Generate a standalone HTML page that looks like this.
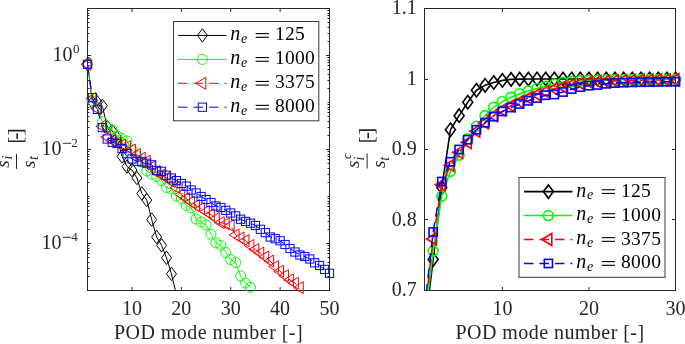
<!DOCTYPE html>
<html><head><meta charset="utf-8"><style>
html,body{margin:0;padding:0;background:#fff;width:685px;height:344px;overflow:hidden;font-family:"Liberation Serif",serif}
svg{will-change:transform}
</style></head><body>
<svg width="685" height="344" viewBox="0 0 685 344" style="position:absolute;left:0;top:0">
<defs><clipPath id="cl"><rect x="87.5" y="8.5" width="242.0" height="282.0"/></clipPath><clipPath id="cr"><rect x="424.5" y="8.5" width="251.0" height="282.0"/></clipPath></defs>
<path d="M131.95 290.5V287.0M131.95 8.5V12.0M181.34 290.5V287.0M181.34 8.5V12.0M230.72 290.5V287.0M230.72 8.5V12.0M280.11 290.5V287.0M280.11 8.5V12.0M329.5 290.5V287.0M329.5 8.5V12.0M87.5 290.5H89.5M329.5 290.5H327.5M87.5 276.5H89.5M329.5 276.5H327.5M87.5 268.5H89.5M329.5 268.5H327.5M87.5 262.5H89.5M329.5 262.5H327.5M87.5 257.5H89.5M329.5 257.5H327.5M87.5 253.5H89.5M329.5 253.5H327.5M87.5 250.5H89.5M329.5 250.5H327.5M87.5 248.5H89.5M329.5 248.5H327.5M87.5 245.5H89.5M329.5 245.5H327.5M87.5 243.5H91M329.5 243.5H326M87.5 229.5H89.5M329.5 229.5H327.5M87.5 221.5H89.5M329.5 221.5H327.5M87.5 215.5H89.5M329.5 215.5H327.5M87.5 210.5H89.5M329.5 210.5H327.5M87.5 206.5H89.5M329.5 206.5H327.5M87.5 203.5H89.5M329.5 203.5H327.5M87.5 201.5H89.5M329.5 201.5H327.5M87.5 198.5H89.5M329.5 198.5H327.5M87.5 196.5H89.5M329.5 196.5H327.5M87.5 182.5H89.5M329.5 182.5H327.5M87.5 174.5H89.5M329.5 174.5H327.5M87.5 168.5H89.5M329.5 168.5H327.5M87.5 163.5H89.5M329.5 163.5H327.5M87.5 159.5H89.5M329.5 159.5H327.5M87.5 156.5H89.5M329.5 156.5H327.5M87.5 154.5H89.5M329.5 154.5H327.5M87.5 151.5H89.5M329.5 151.5H327.5M87.5 149.5H91M329.5 149.5H326M87.5 135.5H89.5M329.5 135.5H327.5M87.5 127.5H89.5M329.5 127.5H327.5M87.5 121.5H89.5M329.5 121.5H327.5M87.5 116.5H89.5M329.5 116.5H327.5M87.5 112.5H89.5M329.5 112.5H327.5M87.5 109.5H89.5M329.5 109.5H327.5M87.5 107.5H89.5M329.5 107.5H327.5M87.5 104.5H89.5M329.5 104.5H327.5M87.5 102.5H89.5M329.5 102.5H327.5M87.5 88.5H89.5M329.5 88.5H327.5M87.5 80.5H89.5M329.5 80.5H327.5M87.5 74.5H89.5M329.5 74.5H327.5M87.5 69.5H89.5M329.5 69.5H327.5M87.5 65.5H89.5M329.5 65.5H327.5M87.5 62.5H89.5M329.5 62.5H327.5M87.5 60.5H89.5M329.5 60.5H327.5M87.5 57.5H89.5M329.5 57.5H327.5M87.5 55.5H91M329.5 55.5H326M87.5 41.5H89.5M329.5 41.5H327.5M87.5 33.5H89.5M329.5 33.5H327.5M87.5 27.5H89.5M329.5 27.5H327.5M87.5 22.5H89.5M329.5 22.5H327.5M87.5 18.5H89.5M329.5 18.5H327.5M87.5 15.5H89.5M329.5 15.5H327.5M87.5 13.5H89.5M329.5 13.5H327.5M87.5 10.5H89.5M329.5 10.5H327.5" stroke="#262626" stroke-width="1" fill="none"/>
<path d="M502.4 290.5V287.0M502.4 8.5V12.0M588.95 290.5V287.0M588.95 8.5V12.0M675.5 290.5V287.0M675.5 8.5V12.0M424.5 290.5H428.0M675.5 290.5H672.0M424.5 219.5H428.0M675.5 219.5H672.0M424.5 149.5H428.0M675.5 149.5H672.0M424.5 79.5H428.0M675.5 79.5H672.0M424.5 8.5H428.0M675.5 8.5H672.0" stroke="#262626" stroke-width="1" fill="none"/>
<rect x="87.5" y="8.5" width="242.0" height="282.0" fill="none" stroke="#262626" stroke-width="1"/>
<rect x="424.5" y="8.5" width="251.0" height="282.0" fill="none" stroke="#262626" stroke-width="1"/>
<path d="M87.5 64.3 L92.44 102.5 L97.38 102.3 L102.32 105.8 L107.26 127 L112.19 131 L117.13 138 L122.07 156.5 L127.01 166.5 L131.95 170 L136.89 178 L141.83 193.5 L146.77 200.1 L151.7 219.6 L156.64 237 L161.58 245.4 L166.52 257.8 L171.46 273.9 L176.4 294.7" fill="none" stroke="#000000" stroke-width="1.0" stroke-linejoin="round" clip-path="url(#cl)"/>
<path d="M87.5 57.6L92.5 64.3L87.5 71L82.5 64.3Z" fill="none" stroke="#000000" stroke-width="1.0"/>
<path d="M92.44 95.8L97.44 102.5L92.44 109.2L87.44 102.5Z" fill="none" stroke="#000000" stroke-width="1.0"/>
<path d="M97.38 95.6L102.38 102.3L97.38 109L92.38 102.3Z" fill="none" stroke="#000000" stroke-width="1.0"/>
<path d="M102.32 99.1L107.32 105.8L102.32 112.5L97.32 105.8Z" fill="none" stroke="#000000" stroke-width="1.0"/>
<path d="M107.26 120.3L112.26 127L107.26 133.7L102.26 127Z" fill="none" stroke="#000000" stroke-width="1.0"/>
<path d="M112.19 124.3L117.19 131L112.19 137.7L107.19 131Z" fill="none" stroke="#000000" stroke-width="1.0"/>
<path d="M117.13 131.3L122.13 138L117.13 144.7L112.13 138Z" fill="none" stroke="#000000" stroke-width="1.0"/>
<path d="M122.07 149.8L127.07 156.5L122.07 163.2L117.07 156.5Z" fill="none" stroke="#000000" stroke-width="1.0"/>
<path d="M127.01 159.8L132.01 166.5L127.01 173.2L122.01 166.5Z" fill="none" stroke="#000000" stroke-width="1.0"/>
<path d="M131.95 163.3L136.95 170L131.95 176.7L126.95 170Z" fill="none" stroke="#000000" stroke-width="1.0"/>
<path d="M136.89 171.3L141.89 178L136.89 184.7L131.89 178Z" fill="none" stroke="#000000" stroke-width="1.0"/>
<path d="M141.83 186.8L146.83 193.5L141.83 200.2L136.83 193.5Z" fill="none" stroke="#000000" stroke-width="1.0"/>
<path d="M146.77 193.4L151.77 200.1L146.77 206.8L141.77 200.1Z" fill="none" stroke="#000000" stroke-width="1.0"/>
<path d="M151.7 212.9L156.7 219.6L151.7 226.3L146.7 219.6Z" fill="none" stroke="#000000" stroke-width="1.0"/>
<path d="M156.64 230.3L161.64 237L156.64 243.7L151.64 237Z" fill="none" stroke="#000000" stroke-width="1.0"/>
<path d="M161.58 238.7L166.58 245.4L161.58 252.1L156.58 245.4Z" fill="none" stroke="#000000" stroke-width="1.0"/>
<path d="M166.52 251.1L171.52 257.8L166.52 264.5L161.52 257.8Z" fill="none" stroke="#000000" stroke-width="1.0"/>
<path d="M171.46 267.2L176.46 273.9L171.46 280.6L166.46 273.9Z" fill="none" stroke="#000000" stroke-width="1.0"/>
<path d="M87.5 64.3 L92.44 101 L97.38 107.6 L102.32 121.8 L107.26 127.5 L112.19 130 L117.13 136 L122.07 138.5 L127.01 141 L131.95 150 L136.89 156 L141.83 162 L146.77 171 L151.7 174 L156.64 176.5 L161.58 180.5 L166.52 187.5 L171.46 189 L176.4 196 L181.34 198.5 L186.28 205.5 L191.21 208 L196.15 219 L201.09 222 L206.03 225 L210.97 234.2 L215.91 242.9 L220.85 245.3 L225.79 252.5 L230.72 259.6 L235.66 262.6 L240.6 275.9 L245.54 283 L250.48 287.1" fill="none" stroke="#00ff00" stroke-width="1.0" stroke-linejoin="round" clip-path="url(#cl)"/>
<circle cx="87.5" cy="64.3" r="5" fill="none" stroke="#00ff00" stroke-width="1.0"/>
<circle cx="92.44" cy="101" r="5" fill="none" stroke="#00ff00" stroke-width="1.0"/>
<circle cx="97.38" cy="107.6" r="5" fill="none" stroke="#00ff00" stroke-width="1.0"/>
<circle cx="102.32" cy="121.8" r="5" fill="none" stroke="#00ff00" stroke-width="1.0"/>
<circle cx="107.26" cy="127.5" r="5" fill="none" stroke="#00ff00" stroke-width="1.0"/>
<circle cx="112.19" cy="130" r="5" fill="none" stroke="#00ff00" stroke-width="1.0"/>
<circle cx="117.13" cy="136" r="5" fill="none" stroke="#00ff00" stroke-width="1.0"/>
<circle cx="122.07" cy="138.5" r="5" fill="none" stroke="#00ff00" stroke-width="1.0"/>
<circle cx="127.01" cy="141" r="5" fill="none" stroke="#00ff00" stroke-width="1.0"/>
<circle cx="131.95" cy="150" r="5" fill="none" stroke="#00ff00" stroke-width="1.0"/>
<circle cx="136.89" cy="156" r="5" fill="none" stroke="#00ff00" stroke-width="1.0"/>
<circle cx="141.83" cy="162" r="5" fill="none" stroke="#00ff00" stroke-width="1.0"/>
<circle cx="146.77" cy="171" r="5" fill="none" stroke="#00ff00" stroke-width="1.0"/>
<circle cx="151.7" cy="174" r="5" fill="none" stroke="#00ff00" stroke-width="1.0"/>
<circle cx="156.64" cy="176.5" r="5" fill="none" stroke="#00ff00" stroke-width="1.0"/>
<circle cx="161.58" cy="180.5" r="5" fill="none" stroke="#00ff00" stroke-width="1.0"/>
<circle cx="166.52" cy="187.5" r="5" fill="none" stroke="#00ff00" stroke-width="1.0"/>
<circle cx="171.46" cy="189" r="5" fill="none" stroke="#00ff00" stroke-width="1.0"/>
<circle cx="176.4" cy="196" r="5" fill="none" stroke="#00ff00" stroke-width="1.0"/>
<circle cx="181.34" cy="198.5" r="5" fill="none" stroke="#00ff00" stroke-width="1.0"/>
<circle cx="186.28" cy="205.5" r="5" fill="none" stroke="#00ff00" stroke-width="1.0"/>
<circle cx="191.21" cy="208" r="5" fill="none" stroke="#00ff00" stroke-width="1.0"/>
<circle cx="196.15" cy="219" r="5" fill="none" stroke="#00ff00" stroke-width="1.0"/>
<circle cx="201.09" cy="222" r="5" fill="none" stroke="#00ff00" stroke-width="1.0"/>
<circle cx="206.03" cy="225" r="5" fill="none" stroke="#00ff00" stroke-width="1.0"/>
<circle cx="210.97" cy="234.2" r="5" fill="none" stroke="#00ff00" stroke-width="1.0"/>
<circle cx="215.91" cy="242.9" r="5" fill="none" stroke="#00ff00" stroke-width="1.0"/>
<circle cx="220.85" cy="245.3" r="5" fill="none" stroke="#00ff00" stroke-width="1.0"/>
<circle cx="225.79" cy="252.5" r="5" fill="none" stroke="#00ff00" stroke-width="1.0"/>
<circle cx="230.72" cy="259.6" r="5" fill="none" stroke="#00ff00" stroke-width="1.0"/>
<circle cx="235.66" cy="262.6" r="5" fill="none" stroke="#00ff00" stroke-width="1.0"/>
<circle cx="240.6" cy="275.9" r="5" fill="none" stroke="#00ff00" stroke-width="1.0"/>
<circle cx="245.54" cy="283" r="5" fill="none" stroke="#00ff00" stroke-width="1.0"/>
<circle cx="250.48" cy="287.1" r="5" fill="none" stroke="#00ff00" stroke-width="1.0"/>
<path d="M87.5 64.3 L92.44 98.5 L97.38 108.7 L102.32 126.2 L107.26 137 L112.19 140.5 L117.13 143 L122.07 145 L127.01 146.7 L131.95 150 L136.89 154.5 L141.83 158.2 L146.77 161.2 L151.7 167 L156.64 171.5 L161.58 175 L166.52 178 L171.46 181.5 L176.4 187.5 L181.34 194.5 L186.28 198.5 L191.21 202 L196.15 205.5 L201.09 208.5 L206.03 211.5 L210.97 214.7 L215.91 218.5 L220.85 222.6 L225.79 223.8 L230.72 225.7 L235.66 235 L240.6 238 L245.54 240.6 L250.48 245.5 L255.42 249.5 L260.36 253 L265.3 257 L270.23 261 L275.17 266.5 L280.11 271.2 L285.05 275.6 L289.99 280 L294.93 283.2 L299.87 287.6" fill="none" stroke="#ff0000" stroke-width="1.0" stroke-linejoin="round" stroke-dasharray="9.5 6" clip-path="url(#cl)"/>
<path d="M81 64.3L90.9 58.3L90.9 70.3Z" fill="none" stroke="#ff0000" stroke-width="1.0"/>
<path d="M85.94 98.5L95.84 92.5L95.84 104.5Z" fill="none" stroke="#ff0000" stroke-width="1.0"/>
<path d="M90.88 108.7L100.78 102.7L100.78 114.7Z" fill="none" stroke="#ff0000" stroke-width="1.0"/>
<path d="M95.82 126.2L105.72 120.2L105.72 132.2Z" fill="none" stroke="#ff0000" stroke-width="1.0"/>
<path d="M100.76 137L110.66 131L110.66 143Z" fill="none" stroke="#ff0000" stroke-width="1.0"/>
<path d="M105.69 140.5L115.59 134.5L115.59 146.5Z" fill="none" stroke="#ff0000" stroke-width="1.0"/>
<path d="M110.63 143L120.53 137L120.53 149Z" fill="none" stroke="#ff0000" stroke-width="1.0"/>
<path d="M115.57 145L125.47 139L125.47 151Z" fill="none" stroke="#ff0000" stroke-width="1.0"/>
<path d="M120.51 146.7L130.41 140.7L130.41 152.7Z" fill="none" stroke="#ff0000" stroke-width="1.0"/>
<path d="M125.45 150L135.35 144L135.35 156Z" fill="none" stroke="#ff0000" stroke-width="1.0"/>
<path d="M130.39 154.5L140.29 148.5L140.29 160.5Z" fill="none" stroke="#ff0000" stroke-width="1.0"/>
<path d="M135.33 158.2L145.23 152.2L145.23 164.2Z" fill="none" stroke="#ff0000" stroke-width="1.0"/>
<path d="M140.27 161.2L150.17 155.2L150.17 167.2Z" fill="none" stroke="#ff0000" stroke-width="1.0"/>
<path d="M145.2 167L155.1 161L155.1 173Z" fill="none" stroke="#ff0000" stroke-width="1.0"/>
<path d="M150.14 171.5L160.04 165.5L160.04 177.5Z" fill="none" stroke="#ff0000" stroke-width="1.0"/>
<path d="M155.08 175L164.98 169L164.98 181Z" fill="none" stroke="#ff0000" stroke-width="1.0"/>
<path d="M160.02 178L169.92 172L169.92 184Z" fill="none" stroke="#ff0000" stroke-width="1.0"/>
<path d="M164.96 181.5L174.86 175.5L174.86 187.5Z" fill="none" stroke="#ff0000" stroke-width="1.0"/>
<path d="M169.9 187.5L179.8 181.5L179.8 193.5Z" fill="none" stroke="#ff0000" stroke-width="1.0"/>
<path d="M174.84 194.5L184.74 188.5L184.74 200.5Z" fill="none" stroke="#ff0000" stroke-width="1.0"/>
<path d="M179.78 198.5L189.68 192.5L189.68 204.5Z" fill="none" stroke="#ff0000" stroke-width="1.0"/>
<path d="M184.71 202L194.61 196L194.61 208Z" fill="none" stroke="#ff0000" stroke-width="1.0"/>
<path d="M189.65 205.5L199.55 199.5L199.55 211.5Z" fill="none" stroke="#ff0000" stroke-width="1.0"/>
<path d="M194.59 208.5L204.49 202.5L204.49 214.5Z" fill="none" stroke="#ff0000" stroke-width="1.0"/>
<path d="M199.53 211.5L209.43 205.5L209.43 217.5Z" fill="none" stroke="#ff0000" stroke-width="1.0"/>
<path d="M204.47 214.7L214.37 208.7L214.37 220.7Z" fill="none" stroke="#ff0000" stroke-width="1.0"/>
<path d="M209.41 218.5L219.31 212.5L219.31 224.5Z" fill="none" stroke="#ff0000" stroke-width="1.0"/>
<path d="M214.35 222.6L224.25 216.6L224.25 228.6Z" fill="none" stroke="#ff0000" stroke-width="1.0"/>
<path d="M219.29 223.8L229.19 217.8L229.19 229.8Z" fill="none" stroke="#ff0000" stroke-width="1.0"/>
<path d="M224.22 225.7L234.12 219.7L234.12 231.7Z" fill="none" stroke="#ff0000" stroke-width="1.0"/>
<path d="M229.16 235L239.06 229L239.06 241Z" fill="none" stroke="#ff0000" stroke-width="1.0"/>
<path d="M234.1 238L244 232L244 244Z" fill="none" stroke="#ff0000" stroke-width="1.0"/>
<path d="M239.04 240.6L248.94 234.6L248.94 246.6Z" fill="none" stroke="#ff0000" stroke-width="1.0"/>
<path d="M243.98 245.5L253.88 239.5L253.88 251.5Z" fill="none" stroke="#ff0000" stroke-width="1.0"/>
<path d="M248.92 249.5L258.82 243.5L258.82 255.5Z" fill="none" stroke="#ff0000" stroke-width="1.0"/>
<path d="M253.86 253L263.76 247L263.76 259Z" fill="none" stroke="#ff0000" stroke-width="1.0"/>
<path d="M258.8 257L268.7 251L268.7 263Z" fill="none" stroke="#ff0000" stroke-width="1.0"/>
<path d="M263.73 261L273.63 255L273.63 267Z" fill="none" stroke="#ff0000" stroke-width="1.0"/>
<path d="M268.67 266.5L278.57 260.5L278.57 272.5Z" fill="none" stroke="#ff0000" stroke-width="1.0"/>
<path d="M273.61 271.2L283.51 265.2L283.51 277.2Z" fill="none" stroke="#ff0000" stroke-width="1.0"/>
<path d="M278.55 275.6L288.45 269.6L288.45 281.6Z" fill="none" stroke="#ff0000" stroke-width="1.0"/>
<path d="M283.49 280L293.39 274L293.39 286Z" fill="none" stroke="#ff0000" stroke-width="1.0"/>
<path d="M288.43 283.2L298.33 277.2L298.33 289.2Z" fill="none" stroke="#ff0000" stroke-width="1.0"/>
<path d="M293.37 287.6L303.27 281.6L303.27 293.6Z" fill="none" stroke="#ff0000" stroke-width="1.0"/>
<path d="M87.5 64.3 L92.44 97.6 L97.38 109.4 L102.32 127.6 L107.26 139 L112.19 142.3 L117.13 143.5 L122.07 148.5 L127.01 153.7 L131.95 159 L136.89 161.3 L141.83 161.9 L146.77 163.2 L151.7 164.8 L156.64 170.5 L161.58 171.3 L166.52 175.2 L171.46 178 L176.4 180.6 L181.34 183.5 L186.28 186.2 L191.21 190 L196.15 193 L201.09 196.5 L206.03 199.5 L210.97 202.5 L215.91 206 L220.85 207.5 L225.79 210.3 L230.72 213 L235.66 215.9 L240.6 219.2 L245.54 221.4 L250.48 223.2 L255.42 225.5 L260.36 229.3 L265.3 232.7 L270.23 237 L275.17 238.7 L280.11 240.8 L285.05 244.5 L289.99 248.5 L294.93 252 L299.87 255 L304.81 256.5 L309.74 259 L314.68 262.8 L319.62 265.5 L324.56 269.4 L329.5 273.3" fill="none" stroke="#0000ff" stroke-width="1.0" stroke-linejoin="round" stroke-dasharray="9.5 6" clip-path="url(#cl)"/>
<rect x="83.4" y="60.2" width="8.2" height="8.2" fill="none" stroke="#0000ff" stroke-width="1.0"/>
<rect x="88.34" y="93.5" width="8.2" height="8.2" fill="none" stroke="#0000ff" stroke-width="1.0"/>
<rect x="93.28" y="105.3" width="8.2" height="8.2" fill="none" stroke="#0000ff" stroke-width="1.0"/>
<rect x="98.22" y="123.5" width="8.2" height="8.2" fill="none" stroke="#0000ff" stroke-width="1.0"/>
<rect x="103.16" y="134.9" width="8.2" height="8.2" fill="none" stroke="#0000ff" stroke-width="1.0"/>
<rect x="108.09" y="138.2" width="8.2" height="8.2" fill="none" stroke="#0000ff" stroke-width="1.0"/>
<rect x="113.03" y="139.4" width="8.2" height="8.2" fill="none" stroke="#0000ff" stroke-width="1.0"/>
<rect x="117.97" y="144.4" width="8.2" height="8.2" fill="none" stroke="#0000ff" stroke-width="1.0"/>
<rect x="122.91" y="149.6" width="8.2" height="8.2" fill="none" stroke="#0000ff" stroke-width="1.0"/>
<rect x="127.85" y="154.9" width="8.2" height="8.2" fill="none" stroke="#0000ff" stroke-width="1.0"/>
<rect x="132.79" y="157.2" width="8.2" height="8.2" fill="none" stroke="#0000ff" stroke-width="1.0"/>
<rect x="137.73" y="157.8" width="8.2" height="8.2" fill="none" stroke="#0000ff" stroke-width="1.0"/>
<rect x="142.67" y="159.1" width="8.2" height="8.2" fill="none" stroke="#0000ff" stroke-width="1.0"/>
<rect x="147.6" y="160.7" width="8.2" height="8.2" fill="none" stroke="#0000ff" stroke-width="1.0"/>
<rect x="152.54" y="166.4" width="8.2" height="8.2" fill="none" stroke="#0000ff" stroke-width="1.0"/>
<rect x="157.48" y="167.2" width="8.2" height="8.2" fill="none" stroke="#0000ff" stroke-width="1.0"/>
<rect x="162.42" y="171.1" width="8.2" height="8.2" fill="none" stroke="#0000ff" stroke-width="1.0"/>
<rect x="167.36" y="173.9" width="8.2" height="8.2" fill="none" stroke="#0000ff" stroke-width="1.0"/>
<rect x="172.3" y="176.5" width="8.2" height="8.2" fill="none" stroke="#0000ff" stroke-width="1.0"/>
<rect x="177.24" y="179.4" width="8.2" height="8.2" fill="none" stroke="#0000ff" stroke-width="1.0"/>
<rect x="182.18" y="182.1" width="8.2" height="8.2" fill="none" stroke="#0000ff" stroke-width="1.0"/>
<rect x="187.11" y="185.9" width="8.2" height="8.2" fill="none" stroke="#0000ff" stroke-width="1.0"/>
<rect x="192.05" y="188.9" width="8.2" height="8.2" fill="none" stroke="#0000ff" stroke-width="1.0"/>
<rect x="196.99" y="192.4" width="8.2" height="8.2" fill="none" stroke="#0000ff" stroke-width="1.0"/>
<rect x="201.93" y="195.4" width="8.2" height="8.2" fill="none" stroke="#0000ff" stroke-width="1.0"/>
<rect x="206.87" y="198.4" width="8.2" height="8.2" fill="none" stroke="#0000ff" stroke-width="1.0"/>
<rect x="211.81" y="201.9" width="8.2" height="8.2" fill="none" stroke="#0000ff" stroke-width="1.0"/>
<rect x="216.75" y="203.4" width="8.2" height="8.2" fill="none" stroke="#0000ff" stroke-width="1.0"/>
<rect x="221.69" y="206.2" width="8.2" height="8.2" fill="none" stroke="#0000ff" stroke-width="1.0"/>
<rect x="226.62" y="208.9" width="8.2" height="8.2" fill="none" stroke="#0000ff" stroke-width="1.0"/>
<rect x="231.56" y="211.8" width="8.2" height="8.2" fill="none" stroke="#0000ff" stroke-width="1.0"/>
<rect x="236.5" y="215.1" width="8.2" height="8.2" fill="none" stroke="#0000ff" stroke-width="1.0"/>
<rect x="241.44" y="217.3" width="8.2" height="8.2" fill="none" stroke="#0000ff" stroke-width="1.0"/>
<rect x="246.38" y="219.1" width="8.2" height="8.2" fill="none" stroke="#0000ff" stroke-width="1.0"/>
<rect x="251.32" y="221.4" width="8.2" height="8.2" fill="none" stroke="#0000ff" stroke-width="1.0"/>
<rect x="256.26" y="225.2" width="8.2" height="8.2" fill="none" stroke="#0000ff" stroke-width="1.0"/>
<rect x="261.2" y="228.6" width="8.2" height="8.2" fill="none" stroke="#0000ff" stroke-width="1.0"/>
<rect x="266.13" y="232.9" width="8.2" height="8.2" fill="none" stroke="#0000ff" stroke-width="1.0"/>
<rect x="271.07" y="234.6" width="8.2" height="8.2" fill="none" stroke="#0000ff" stroke-width="1.0"/>
<rect x="276.01" y="236.7" width="8.2" height="8.2" fill="none" stroke="#0000ff" stroke-width="1.0"/>
<rect x="280.95" y="240.4" width="8.2" height="8.2" fill="none" stroke="#0000ff" stroke-width="1.0"/>
<rect x="285.89" y="244.4" width="8.2" height="8.2" fill="none" stroke="#0000ff" stroke-width="1.0"/>
<rect x="290.83" y="247.9" width="8.2" height="8.2" fill="none" stroke="#0000ff" stroke-width="1.0"/>
<rect x="295.77" y="250.9" width="8.2" height="8.2" fill="none" stroke="#0000ff" stroke-width="1.0"/>
<rect x="300.71" y="252.4" width="8.2" height="8.2" fill="none" stroke="#0000ff" stroke-width="1.0"/>
<rect x="305.64" y="254.9" width="8.2" height="8.2" fill="none" stroke="#0000ff" stroke-width="1.0"/>
<rect x="310.58" y="258.7" width="8.2" height="8.2" fill="none" stroke="#0000ff" stroke-width="1.0"/>
<rect x="315.52" y="261.4" width="8.2" height="8.2" fill="none" stroke="#0000ff" stroke-width="1.0"/>
<rect x="320.46" y="265.3" width="8.2" height="8.2" fill="none" stroke="#0000ff" stroke-width="1.0"/>
<rect x="325.4" y="269.2" width="8.2" height="8.2" fill="none" stroke="#0000ff" stroke-width="1.0"/>
<path d="M424.5 329.98 L433.16 259.48 L441.81 187.57 L450.47 129.76 L459.12 115.66 L467.78 102.26 L476.43 90.28 L485.09 85.34 L493.74 82.52 L502.4 80.41 L511.05 79.35 L519.71 79.14 L528.36 79.06 L537.02 79.02 L545.67 79.01 L554.33 79 L562.98 79 L571.64 79 L580.29 79 L588.95 79 L597.6 79 L606.26 79 L614.91 79 L623.57 79 L632.22 79 L640.88 79 L649.53 79 L658.19 79 L666.84 79 L675.5 79" fill="none" stroke="#000000" stroke-width="1.6" stroke-linejoin="round" clip-path="url(#cr)"/>
<path d="M433.16 252.78L438.16 259.48L433.16 266.18L428.16 259.48Z" fill="none" stroke="#000000" stroke-width="1.6"/>
<path d="M441.81 180.87L446.81 187.57L441.81 194.27L436.81 187.57Z" fill="none" stroke="#000000" stroke-width="1.6"/>
<path d="M450.47 123.06L455.47 129.76L450.47 136.46L445.47 129.76Z" fill="none" stroke="#000000" stroke-width="1.6"/>
<path d="M459.12 108.96L464.12 115.66L459.12 122.36L454.12 115.66Z" fill="none" stroke="#000000" stroke-width="1.6"/>
<path d="M467.78 95.56L472.78 102.26L467.78 108.96L462.78 102.26Z" fill="none" stroke="#000000" stroke-width="1.6"/>
<path d="M476.43 83.58L481.43 90.28L476.43 96.98L471.43 90.28Z" fill="none" stroke="#000000" stroke-width="1.6"/>
<path d="M485.09 78.64L490.09 85.34L485.09 92.04L480.09 85.34Z" fill="none" stroke="#000000" stroke-width="1.6"/>
<path d="M493.74 75.82L498.74 82.52L493.74 89.22L488.74 82.52Z" fill="none" stroke="#000000" stroke-width="1.6"/>
<path d="M502.4 73.71L507.4 80.41L502.4 87.11L497.4 80.41Z" fill="none" stroke="#000000" stroke-width="1.6"/>
<path d="M511.05 72.65L516.05 79.35L511.05 86.05L506.05 79.35Z" fill="none" stroke="#000000" stroke-width="1.6"/>
<path d="M519.71 72.44L524.71 79.14L519.71 85.84L514.71 79.14Z" fill="none" stroke="#000000" stroke-width="1.6"/>
<path d="M528.36 72.36L533.36 79.06L528.36 85.76L523.36 79.06Z" fill="none" stroke="#000000" stroke-width="1.6"/>
<path d="M537.02 72.32L542.02 79.02L537.02 85.72L532.02 79.02Z" fill="none" stroke="#000000" stroke-width="1.6"/>
<path d="M545.67 72.31L550.67 79.01L545.67 85.71L540.67 79.01Z" fill="none" stroke="#000000" stroke-width="1.6"/>
<path d="M554.33 72.3L559.33 79L554.33 85.7L549.33 79Z" fill="none" stroke="#000000" stroke-width="1.6"/>
<path d="M562.98 72.3L567.98 79L562.98 85.7L557.98 79Z" fill="none" stroke="#000000" stroke-width="1.6"/>
<path d="M571.64 72.3L576.64 79L571.64 85.7L566.64 79Z" fill="none" stroke="#000000" stroke-width="1.6"/>
<path d="M580.29 72.3L585.29 79L580.29 85.7L575.29 79Z" fill="none" stroke="#000000" stroke-width="1.6"/>
<path d="M588.95 72.3L593.95 79L588.95 85.7L583.95 79Z" fill="none" stroke="#000000" stroke-width="1.6"/>
<path d="M597.6 72.3L602.6 79L597.6 85.7L592.6 79Z" fill="none" stroke="#000000" stroke-width="1.6"/>
<path d="M606.26 72.3L611.26 79L606.26 85.7L601.26 79Z" fill="none" stroke="#000000" stroke-width="1.6"/>
<path d="M614.91 72.3L619.91 79L614.91 85.7L609.91 79Z" fill="none" stroke="#000000" stroke-width="1.6"/>
<path d="M623.57 72.3L628.57 79L623.57 85.7L618.57 79Z" fill="none" stroke="#000000" stroke-width="1.6"/>
<path d="M632.22 72.3L637.22 79L632.22 85.7L627.22 79Z" fill="none" stroke="#000000" stroke-width="1.6"/>
<path d="M640.88 72.3L645.88 79L640.88 85.7L635.88 79Z" fill="none" stroke="#000000" stroke-width="1.6"/>
<path d="M649.53 72.3L654.53 79L649.53 85.7L644.53 79Z" fill="none" stroke="#000000" stroke-width="1.6"/>
<path d="M658.19 72.3L663.19 79L658.19 85.7L653.19 79Z" fill="none" stroke="#000000" stroke-width="1.6"/>
<path d="M666.84 72.3L671.84 79L666.84 85.7L661.84 79Z" fill="none" stroke="#000000" stroke-width="1.6"/>
<path d="M675.5 72.3L680.5 79L675.5 85.7L670.5 79Z" fill="none" stroke="#000000" stroke-width="1.6"/>
<path d="M424.5 322.22 L433.16 251.02 L441.81 196.03 L450.47 171.35 L459.12 155.14 L467.78 138.92 L476.43 126.23 L485.09 115.66 L493.74 107.2 L502.4 101.56 L511.05 97.33 L519.71 93.8 L528.36 90.98 L537.02 88.52 L545.67 86.4 L554.33 84.29 L562.98 82.31 L571.64 81.4 L580.29 80.83 L588.95 80.48 L597.6 80.24 L606.26 80.05 L614.91 79.9 L623.57 79.77 L632.22 79.67 L640.88 79.6 L649.53 79.53 L658.19 79.48 L666.84 79.44 L675.5 79.41" fill="none" stroke="#00ff00" stroke-width="1.6" stroke-linejoin="round" clip-path="url(#cr)"/>
<circle cx="433.16" cy="251.02" r="5" fill="none" stroke="#00ff00" stroke-width="1.6"/>
<circle cx="441.81" cy="196.03" r="5" fill="none" stroke="#00ff00" stroke-width="1.6"/>
<circle cx="450.47" cy="171.35" r="5" fill="none" stroke="#00ff00" stroke-width="1.6"/>
<circle cx="459.12" cy="155.14" r="5" fill="none" stroke="#00ff00" stroke-width="1.6"/>
<circle cx="467.78" cy="138.92" r="5" fill="none" stroke="#00ff00" stroke-width="1.6"/>
<circle cx="476.43" cy="126.23" r="5" fill="none" stroke="#00ff00" stroke-width="1.6"/>
<circle cx="485.09" cy="115.66" r="5" fill="none" stroke="#00ff00" stroke-width="1.6"/>
<circle cx="493.74" cy="107.2" r="5" fill="none" stroke="#00ff00" stroke-width="1.6"/>
<circle cx="502.4" cy="101.56" r="5" fill="none" stroke="#00ff00" stroke-width="1.6"/>
<circle cx="511.05" cy="97.33" r="5" fill="none" stroke="#00ff00" stroke-width="1.6"/>
<circle cx="519.71" cy="93.8" r="5" fill="none" stroke="#00ff00" stroke-width="1.6"/>
<circle cx="528.36" cy="90.98" r="5" fill="none" stroke="#00ff00" stroke-width="1.6"/>
<circle cx="537.02" cy="88.52" r="5" fill="none" stroke="#00ff00" stroke-width="1.6"/>
<circle cx="545.67" cy="86.4" r="5" fill="none" stroke="#00ff00" stroke-width="1.6"/>
<circle cx="554.33" cy="84.29" r="5" fill="none" stroke="#00ff00" stroke-width="1.6"/>
<circle cx="562.98" cy="82.31" r="5" fill="none" stroke="#00ff00" stroke-width="1.6"/>
<circle cx="571.64" cy="81.4" r="5" fill="none" stroke="#00ff00" stroke-width="1.6"/>
<circle cx="580.29" cy="80.83" r="5" fill="none" stroke="#00ff00" stroke-width="1.6"/>
<circle cx="588.95" cy="80.48" r="5" fill="none" stroke="#00ff00" stroke-width="1.6"/>
<circle cx="597.6" cy="80.24" r="5" fill="none" stroke="#00ff00" stroke-width="1.6"/>
<circle cx="606.26" cy="80.05" r="5" fill="none" stroke="#00ff00" stroke-width="1.6"/>
<circle cx="614.91" cy="79.9" r="5" fill="none" stroke="#00ff00" stroke-width="1.6"/>
<circle cx="623.57" cy="79.77" r="5" fill="none" stroke="#00ff00" stroke-width="1.6"/>
<circle cx="632.22" cy="79.67" r="5" fill="none" stroke="#00ff00" stroke-width="1.6"/>
<circle cx="640.88" cy="79.6" r="5" fill="none" stroke="#00ff00" stroke-width="1.6"/>
<circle cx="649.53" cy="79.53" r="5" fill="none" stroke="#00ff00" stroke-width="1.6"/>
<circle cx="658.19" cy="79.48" r="5" fill="none" stroke="#00ff00" stroke-width="1.6"/>
<circle cx="666.84" cy="79.44" r="5" fill="none" stroke="#00ff00" stroke-width="1.6"/>
<circle cx="675.5" cy="79.41" r="5" fill="none" stroke="#00ff00" stroke-width="1.6"/>
<path d="M424.5 315.17 L433.16 239.03 L441.81 184.75 L450.47 165.36 L459.12 152.32 L467.78 142.45 L476.43 131.17 L485.09 122.71 L493.74 115.66 L502.4 110.02 L511.05 105.79 L519.71 101.56 L528.36 98.03 L537.02 94.51 L545.67 91.69 L554.33 88.87 L562.98 86.75 L571.64 84.64 L580.29 83.23 L588.95 82.17 L597.6 81.64 L606.26 81.21 L614.91 80.87 L623.57 80.59 L632.22 80.37 L640.88 80.2 L649.53 80.06 L658.19 79.94 L666.84 79.85 L675.5 79.78" fill="none" stroke="#ff0000" stroke-width="1.6" stroke-linejoin="round" stroke-dasharray="9.5 6" clip-path="url(#cr)"/>
<path d="M426.66 239.03L436.56 233.03L436.56 245.03Z" fill="none" stroke="#ff0000" stroke-width="1.6"/>
<path d="M435.31 184.75L445.21 178.75L445.21 190.75Z" fill="none" stroke="#ff0000" stroke-width="1.6"/>
<path d="M443.97 165.36L453.87 159.36L453.87 171.36Z" fill="none" stroke="#ff0000" stroke-width="1.6"/>
<path d="M452.62 152.32L462.52 146.32L462.52 158.32Z" fill="none" stroke="#ff0000" stroke-width="1.6"/>
<path d="M461.28 142.45L471.18 136.45L471.18 148.45Z" fill="none" stroke="#ff0000" stroke-width="1.6"/>
<path d="M469.93 131.17L479.83 125.17L479.83 137.17Z" fill="none" stroke="#ff0000" stroke-width="1.6"/>
<path d="M478.59 122.71L488.49 116.71L488.49 128.71Z" fill="none" stroke="#ff0000" stroke-width="1.6"/>
<path d="M487.24 115.66L497.14 109.66L497.14 121.66Z" fill="none" stroke="#ff0000" stroke-width="1.6"/>
<path d="M495.9 110.02L505.8 104.02L505.8 116.02Z" fill="none" stroke="#ff0000" stroke-width="1.6"/>
<path d="M504.55 105.79L514.45 99.79L514.45 111.79Z" fill="none" stroke="#ff0000" stroke-width="1.6"/>
<path d="M513.21 101.56L523.11 95.56L523.11 107.56Z" fill="none" stroke="#ff0000" stroke-width="1.6"/>
<path d="M521.86 98.03L531.76 92.03L531.76 104.03Z" fill="none" stroke="#ff0000" stroke-width="1.6"/>
<path d="M530.52 94.51L540.42 88.51L540.42 100.51Z" fill="none" stroke="#ff0000" stroke-width="1.6"/>
<path d="M539.17 91.69L549.07 85.69L549.07 97.69Z" fill="none" stroke="#ff0000" stroke-width="1.6"/>
<path d="M547.83 88.87L557.73 82.87L557.73 94.87Z" fill="none" stroke="#ff0000" stroke-width="1.6"/>
<path d="M556.48 86.75L566.38 80.75L566.38 92.75Z" fill="none" stroke="#ff0000" stroke-width="1.6"/>
<path d="M565.14 84.64L575.04 78.64L575.04 90.64Z" fill="none" stroke="#ff0000" stroke-width="1.6"/>
<path d="M573.79 83.23L583.69 77.23L583.69 89.23Z" fill="none" stroke="#ff0000" stroke-width="1.6"/>
<path d="M582.45 82.17L592.35 76.17L592.35 88.17Z" fill="none" stroke="#ff0000" stroke-width="1.6"/>
<path d="M591.1 81.64L601 75.64L601 87.64Z" fill="none" stroke="#ff0000" stroke-width="1.6"/>
<path d="M599.76 81.21L609.66 75.21L609.66 87.21Z" fill="none" stroke="#ff0000" stroke-width="1.6"/>
<path d="M608.41 80.87L618.31 74.87L618.31 86.87Z" fill="none" stroke="#ff0000" stroke-width="1.6"/>
<path d="M617.07 80.59L626.97 74.59L626.97 86.59Z" fill="none" stroke="#ff0000" stroke-width="1.6"/>
<path d="M625.72 80.37L635.62 74.37L635.62 86.37Z" fill="none" stroke="#ff0000" stroke-width="1.6"/>
<path d="M634.38 80.2L644.28 74.2L644.28 86.2Z" fill="none" stroke="#ff0000" stroke-width="1.6"/>
<path d="M643.03 80.06L652.93 74.06L652.93 86.06Z" fill="none" stroke="#ff0000" stroke-width="1.6"/>
<path d="M651.69 79.94L661.59 73.94L661.59 85.94Z" fill="none" stroke="#ff0000" stroke-width="1.6"/>
<path d="M660.34 79.85L670.24 73.85L670.24 85.85Z" fill="none" stroke="#ff0000" stroke-width="1.6"/>
<path d="M669 79.78L678.9 73.78L678.9 85.78Z" fill="none" stroke="#ff0000" stroke-width="1.6"/>
<path d="M424.5 308.83 L433.16 231.98 L441.81 181.51 L450.47 161.77 L459.12 149.5 L467.78 139.63 L476.43 129.76 L485.09 122.71 L493.74 116.72 L502.4 111.43 L511.05 107.55 L519.71 104.03 L528.36 100.85 L537.02 98.03 L545.67 95.22 L554.33 94.51 L562.98 92.04 L571.64 89.08 L580.29 87.11 L588.95 85.7 L597.6 84.99 L606.26 83.79 L614.91 83.09 L623.57 82.67 L632.22 82.38 L640.88 82.17 L649.53 82.03 L658.19 81.89 L666.84 81.82 L675.5 81.75" fill="none" stroke="#0000ff" stroke-width="1.6" stroke-linejoin="round" stroke-dasharray="9.5 6" clip-path="url(#cr)"/>
<rect x="429.06" y="227.88" width="8.2" height="8.2" fill="none" stroke="#0000ff" stroke-width="1.6"/>
<rect x="437.71" y="177.41" width="8.2" height="8.2" fill="none" stroke="#0000ff" stroke-width="1.6"/>
<rect x="446.37" y="157.67" width="8.2" height="8.2" fill="none" stroke="#0000ff" stroke-width="1.6"/>
<rect x="455.02" y="145.4" width="8.2" height="8.2" fill="none" stroke="#0000ff" stroke-width="1.6"/>
<rect x="463.68" y="135.53" width="8.2" height="8.2" fill="none" stroke="#0000ff" stroke-width="1.6"/>
<rect x="472.33" y="125.66" width="8.2" height="8.2" fill="none" stroke="#0000ff" stroke-width="1.6"/>
<rect x="480.99" y="118.61" width="8.2" height="8.2" fill="none" stroke="#0000ff" stroke-width="1.6"/>
<rect x="489.64" y="112.62" width="8.2" height="8.2" fill="none" stroke="#0000ff" stroke-width="1.6"/>
<rect x="498.3" y="107.33" width="8.2" height="8.2" fill="none" stroke="#0000ff" stroke-width="1.6"/>
<rect x="506.95" y="103.45" width="8.2" height="8.2" fill="none" stroke="#0000ff" stroke-width="1.6"/>
<rect x="515.61" y="99.93" width="8.2" height="8.2" fill="none" stroke="#0000ff" stroke-width="1.6"/>
<rect x="524.26" y="96.75" width="8.2" height="8.2" fill="none" stroke="#0000ff" stroke-width="1.6"/>
<rect x="532.92" y="93.94" width="8.2" height="8.2" fill="none" stroke="#0000ff" stroke-width="1.6"/>
<rect x="541.57" y="91.12" width="8.2" height="8.2" fill="none" stroke="#0000ff" stroke-width="1.6"/>
<rect x="550.23" y="90.41" width="8.2" height="8.2" fill="none" stroke="#0000ff" stroke-width="1.6"/>
<rect x="558.88" y="87.94" width="8.2" height="8.2" fill="none" stroke="#0000ff" stroke-width="1.6"/>
<rect x="567.54" y="84.98" width="8.2" height="8.2" fill="none" stroke="#0000ff" stroke-width="1.6"/>
<rect x="576.19" y="83.01" width="8.2" height="8.2" fill="none" stroke="#0000ff" stroke-width="1.6"/>
<rect x="584.85" y="81.6" width="8.2" height="8.2" fill="none" stroke="#0000ff" stroke-width="1.6"/>
<rect x="593.5" y="80.89" width="8.2" height="8.2" fill="none" stroke="#0000ff" stroke-width="1.6"/>
<rect x="602.16" y="79.69" width="8.2" height="8.2" fill="none" stroke="#0000ff" stroke-width="1.6"/>
<rect x="610.81" y="78.99" width="8.2" height="8.2" fill="none" stroke="#0000ff" stroke-width="1.6"/>
<rect x="619.47" y="78.57" width="8.2" height="8.2" fill="none" stroke="#0000ff" stroke-width="1.6"/>
<rect x="628.12" y="78.28" width="8.2" height="8.2" fill="none" stroke="#0000ff" stroke-width="1.6"/>
<rect x="636.78" y="78.07" width="8.2" height="8.2" fill="none" stroke="#0000ff" stroke-width="1.6"/>
<rect x="645.43" y="77.93" width="8.2" height="8.2" fill="none" stroke="#0000ff" stroke-width="1.6"/>
<rect x="654.09" y="77.79" width="8.2" height="8.2" fill="none" stroke="#0000ff" stroke-width="1.6"/>
<rect x="662.74" y="77.72" width="8.2" height="8.2" fill="none" stroke="#0000ff" stroke-width="1.6"/>
<rect x="671.4" y="77.65" width="8.2" height="8.2" fill="none" stroke="#0000ff" stroke-width="1.6"/>
<text x="131.95" y="315" font-size="20" text-anchor="middle" font-family="Liberation Serif" fill="#262626">10</text>
<text x="181.34" y="315" font-size="20" text-anchor="middle" font-family="Liberation Serif" fill="#262626">20</text>
<text x="230.72" y="315" font-size="20" text-anchor="middle" font-family="Liberation Serif" fill="#262626">30</text>
<text x="280.11" y="315" font-size="20" text-anchor="middle" font-family="Liberation Serif" fill="#262626">40</text>
<text x="329.5" y="315" font-size="20" text-anchor="middle" font-family="Liberation Serif" fill="#262626">50</text>
<text x="502.4" y="315" font-size="20" text-anchor="middle" font-family="Liberation Serif" fill="#262626">10</text>
<text x="588.95" y="315" font-size="20" text-anchor="middle" font-family="Liberation Serif" fill="#262626">20</text>
<text x="675.5" y="315" font-size="20" text-anchor="middle" font-family="Liberation Serif" fill="#262626">30</text>
<text x="52.5" y="60.5" font-size="20" font-family="Liberation Serif" fill="#262626">10</text>
<text x="73" y="53.4" font-size="13" font-family="Liberation Serif" fill="#262626">0</text>
<text x="41.6" y="154.5" font-size="20" font-family="Liberation Serif" fill="#262626">10</text>
<rect x="62.8" y="142.8" width="8.4" height="0.95" fill="#262626"/>
<text x="71.2" y="147.2" font-size="13" font-family="Liberation Serif" fill="#262626">2</text>
<text x="41.6" y="248.5" font-size="20" font-family="Liberation Serif" fill="#262626">10</text>
<rect x="62.8" y="236.8" width="8.4" height="0.95" fill="#262626"/>
<text x="71.2" y="241.2" font-size="13" font-family="Liberation Serif" fill="#262626">4</text>
<text x="416.7" y="296.1" font-size="20" text-anchor="end" font-family="Liberation Serif" fill="#262626">0.7</text>
<text x="416.7" y="225.6" font-size="20" text-anchor="end" font-family="Liberation Serif" fill="#262626">0.8</text>
<text x="416.7" y="155.1" font-size="20" text-anchor="end" font-family="Liberation Serif" fill="#262626">0.9</text>
<text x="416.7" y="84.6" font-size="20" text-anchor="end" font-family="Liberation Serif" fill="#262626">1</text>
<text x="416.7" y="14.1" font-size="20" text-anchor="end" font-family="Liberation Serif" fill="#262626">1.1</text>
<text x="208.5" y="338.8" font-size="20" text-anchor="middle" letter-spacing="0.45" font-family="Liberation Serif" fill="#262626">POD mode number [-]</text>
<text x="550" y="338.8" font-size="20" text-anchor="middle" letter-spacing="0.45" font-family="Liberation Serif" fill="#262626">POD mode number [-]</text>
<g transform="translate(16.5 161.45) rotate(-90)"><rect x="-7.5" y="-0.5" width="15" height="1" fill="#262626"/><text x="-6.2" y="-7.5" font-size="19" font-style="italic" font-family="Liberation Serif" fill="#262626">s</text><text x="1.9" y="-4.7" font-size="14" font-style="italic" font-family="Liberation Serif" fill="#262626">i</text><text x="-6.5" y="18.7" font-size="19" font-style="italic" font-family="Liberation Serif" fill="#262626">s</text><text x="1.5" y="21.3" font-size="14" font-style="italic" font-family="Liberation Serif" fill="#262626">t</text><text x="17.6" y="5.6" font-size="22" letter-spacing="-3.1" font-family="Liberation Serif" fill="#262626">[-]</text></g>
<g transform="translate(367.1 161.0) rotate(-90)"><rect x="-7.5" y="-0.5" width="15" height="1" fill="#262626"/><text x="-6.9" y="-7.7" font-size="19" font-style="italic" font-family="Liberation Serif" fill="#262626">s</text><text x="0.6" y="-2.9" font-size="14" font-style="italic" font-family="Liberation Serif" fill="#262626">i</text><text x="1.9" y="-16.1" font-size="13" font-style="italic" font-family="Liberation Serif" fill="#262626">c</text><text x="-6.9" y="18.2" font-size="19" font-style="italic" font-family="Liberation Serif" fill="#262626">s</text><text x="0.2" y="21.9" font-size="14" font-style="italic" font-family="Liberation Serif" fill="#262626">t</text><text x="17.6" y="5.6" font-size="22" letter-spacing="-3.1" font-family="Liberation Serif" fill="#262626">[-]</text></g>
<rect x="173.5" y="21.5" width="145.3" height="99.3" fill="#fff" stroke="#383838" stroke-width="1"/>
<path d="M178 35.45H226.6" stroke="#000000" stroke-width="1.0"/>
<path d="M202.4 28.75L207.4 35.45L202.4 42.15L197.4 35.45Z" fill="none" stroke="#000000" stroke-width="1.0"/>
<text x="230.2" y="40.35" font-size="20" font-style="italic" font-family="Liberation Serif" fill="#000">n</text>
<text x="241" y="43.15" font-size="14" font-style="italic" font-family="Liberation Serif" fill="#000">e</text>
<rect x="255.6" y="33.05" width="13.3" height="1.1" fill="#000"/>
<rect x="255.6" y="36.75" width="13.3" height="1.1" fill="#000"/>
<text x="274.9" y="40.45" font-size="19.5" letter-spacing="0.3" font-family="Liberation Serif" fill="#000">125</text>
<path d="M178 59.4H226.6" stroke="#00ff00" stroke-width="1.0"/>
<circle cx="202.4" cy="59.4" r="5" fill="none" stroke="#00ff00" stroke-width="1.0"/>
<text x="230.2" y="64.3" font-size="20" font-style="italic" font-family="Liberation Serif" fill="#000">n</text>
<text x="241" y="67.1" font-size="14" font-style="italic" font-family="Liberation Serif" fill="#000">e</text>
<rect x="255.6" y="57" width="13.3" height="1.1" fill="#000"/>
<rect x="255.6" y="60.7" width="13.3" height="1.1" fill="#000"/>
<text x="274.9" y="64.4" font-size="19.5" letter-spacing="0.3" font-family="Liberation Serif" fill="#000">1000</text>
<path d="M178 83.3H226.6" stroke="#ff0000" stroke-width="1.0" stroke-dasharray="9.5 6"/>
<path d="M195.9 83.3L205.8 77.3L205.8 89.3Z" fill="none" stroke="#ff0000" stroke-width="1.0"/>
<text x="230.2" y="88.2" font-size="20" font-style="italic" font-family="Liberation Serif" fill="#000">n</text>
<text x="241" y="91" font-size="14" font-style="italic" font-family="Liberation Serif" fill="#000">e</text>
<rect x="255.6" y="80.9" width="13.3" height="1.1" fill="#000"/>
<rect x="255.6" y="84.6" width="13.3" height="1.1" fill="#000"/>
<text x="274.9" y="88.3" font-size="19.5" letter-spacing="0.3" font-family="Liberation Serif" fill="#000">3375</text>
<path d="M178 107.2H226.6" stroke="#0000ff" stroke-width="1.0" stroke-dasharray="9.5 6"/>
<rect x="198.3" y="103.1" width="8.2" height="8.2" fill="none" stroke="#0000ff" stroke-width="1.0"/>
<text x="230.2" y="112.1" font-size="20" font-style="italic" font-family="Liberation Serif" fill="#000">n</text>
<text x="241" y="114.9" font-size="14" font-style="italic" font-family="Liberation Serif" fill="#000">e</text>
<rect x="255.6" y="104.8" width="13.3" height="1.1" fill="#000"/>
<rect x="255.6" y="108.5" width="13.3" height="1.1" fill="#000"/>
<text x="274.9" y="112.2" font-size="19.5" letter-spacing="0.3" font-family="Liberation Serif" fill="#000">8000</text>
<rect x="519" y="177.5" width="146" height="99.80000000000001" fill="#fff" stroke="#383838" stroke-width="1"/>
<path d="M524 191.6H572.4" stroke="#000000" stroke-width="1.6"/>
<path d="M548.4 184.9L553.4 191.6L548.4 198.3L543.4 191.6Z" fill="none" stroke="#000000" stroke-width="1.6"/>
<text x="576.3" y="196.5" font-size="20" font-style="italic" font-family="Liberation Serif" fill="#000">n</text>
<text x="587.1" y="199.3" font-size="14" font-style="italic" font-family="Liberation Serif" fill="#000">e</text>
<rect x="601.7" y="189.2" width="13.3" height="1.1" fill="#000"/>
<rect x="601.7" y="192.9" width="13.3" height="1.1" fill="#000"/>
<text x="621" y="196.6" font-size="19.5" letter-spacing="0.3" font-family="Liberation Serif" fill="#000">125</text>
<path d="M524 215.55H572.4" stroke="#00ff00" stroke-width="1.6"/>
<circle cx="548.4" cy="215.55" r="5" fill="none" stroke="#00ff00" stroke-width="1.6"/>
<text x="576.3" y="220.45" font-size="20" font-style="italic" font-family="Liberation Serif" fill="#000">n</text>
<text x="587.1" y="223.25" font-size="14" font-style="italic" font-family="Liberation Serif" fill="#000">e</text>
<rect x="601.7" y="213.15" width="13.3" height="1.1" fill="#000"/>
<rect x="601.7" y="216.85" width="13.3" height="1.1" fill="#000"/>
<text x="621" y="220.55" font-size="19.5" letter-spacing="0.3" font-family="Liberation Serif" fill="#000">1000</text>
<path d="M524 239.5H572.4" stroke="#ff0000" stroke-width="1.6" stroke-dasharray="9.5 6"/>
<path d="M541.9 239.5L551.8 233.5L551.8 245.5Z" fill="none" stroke="#ff0000" stroke-width="1.6"/>
<text x="576.3" y="244.4" font-size="20" font-style="italic" font-family="Liberation Serif" fill="#000">n</text>
<text x="587.1" y="247.2" font-size="14" font-style="italic" font-family="Liberation Serif" fill="#000">e</text>
<rect x="601.7" y="237.1" width="13.3" height="1.1" fill="#000"/>
<rect x="601.7" y="240.8" width="13.3" height="1.1" fill="#000"/>
<text x="621" y="244.5" font-size="19.5" letter-spacing="0.3" font-family="Liberation Serif" fill="#000">3375</text>
<path d="M524 263.45H572.4" stroke="#0000ff" stroke-width="1.6" stroke-dasharray="9.5 6"/>
<rect x="544.3" y="259.35" width="8.2" height="8.2" fill="none" stroke="#0000ff" stroke-width="1.6"/>
<text x="576.3" y="268.35" font-size="20" font-style="italic" font-family="Liberation Serif" fill="#000">n</text>
<text x="587.1" y="271.15" font-size="14" font-style="italic" font-family="Liberation Serif" fill="#000">e</text>
<rect x="601.7" y="261.05" width="13.3" height="1.1" fill="#000"/>
<rect x="601.7" y="264.75" width="13.3" height="1.1" fill="#000"/>
<text x="621" y="268.45" font-size="19.5" letter-spacing="0.3" font-family="Liberation Serif" fill="#000">8000</text>
</svg>
</body></html>
